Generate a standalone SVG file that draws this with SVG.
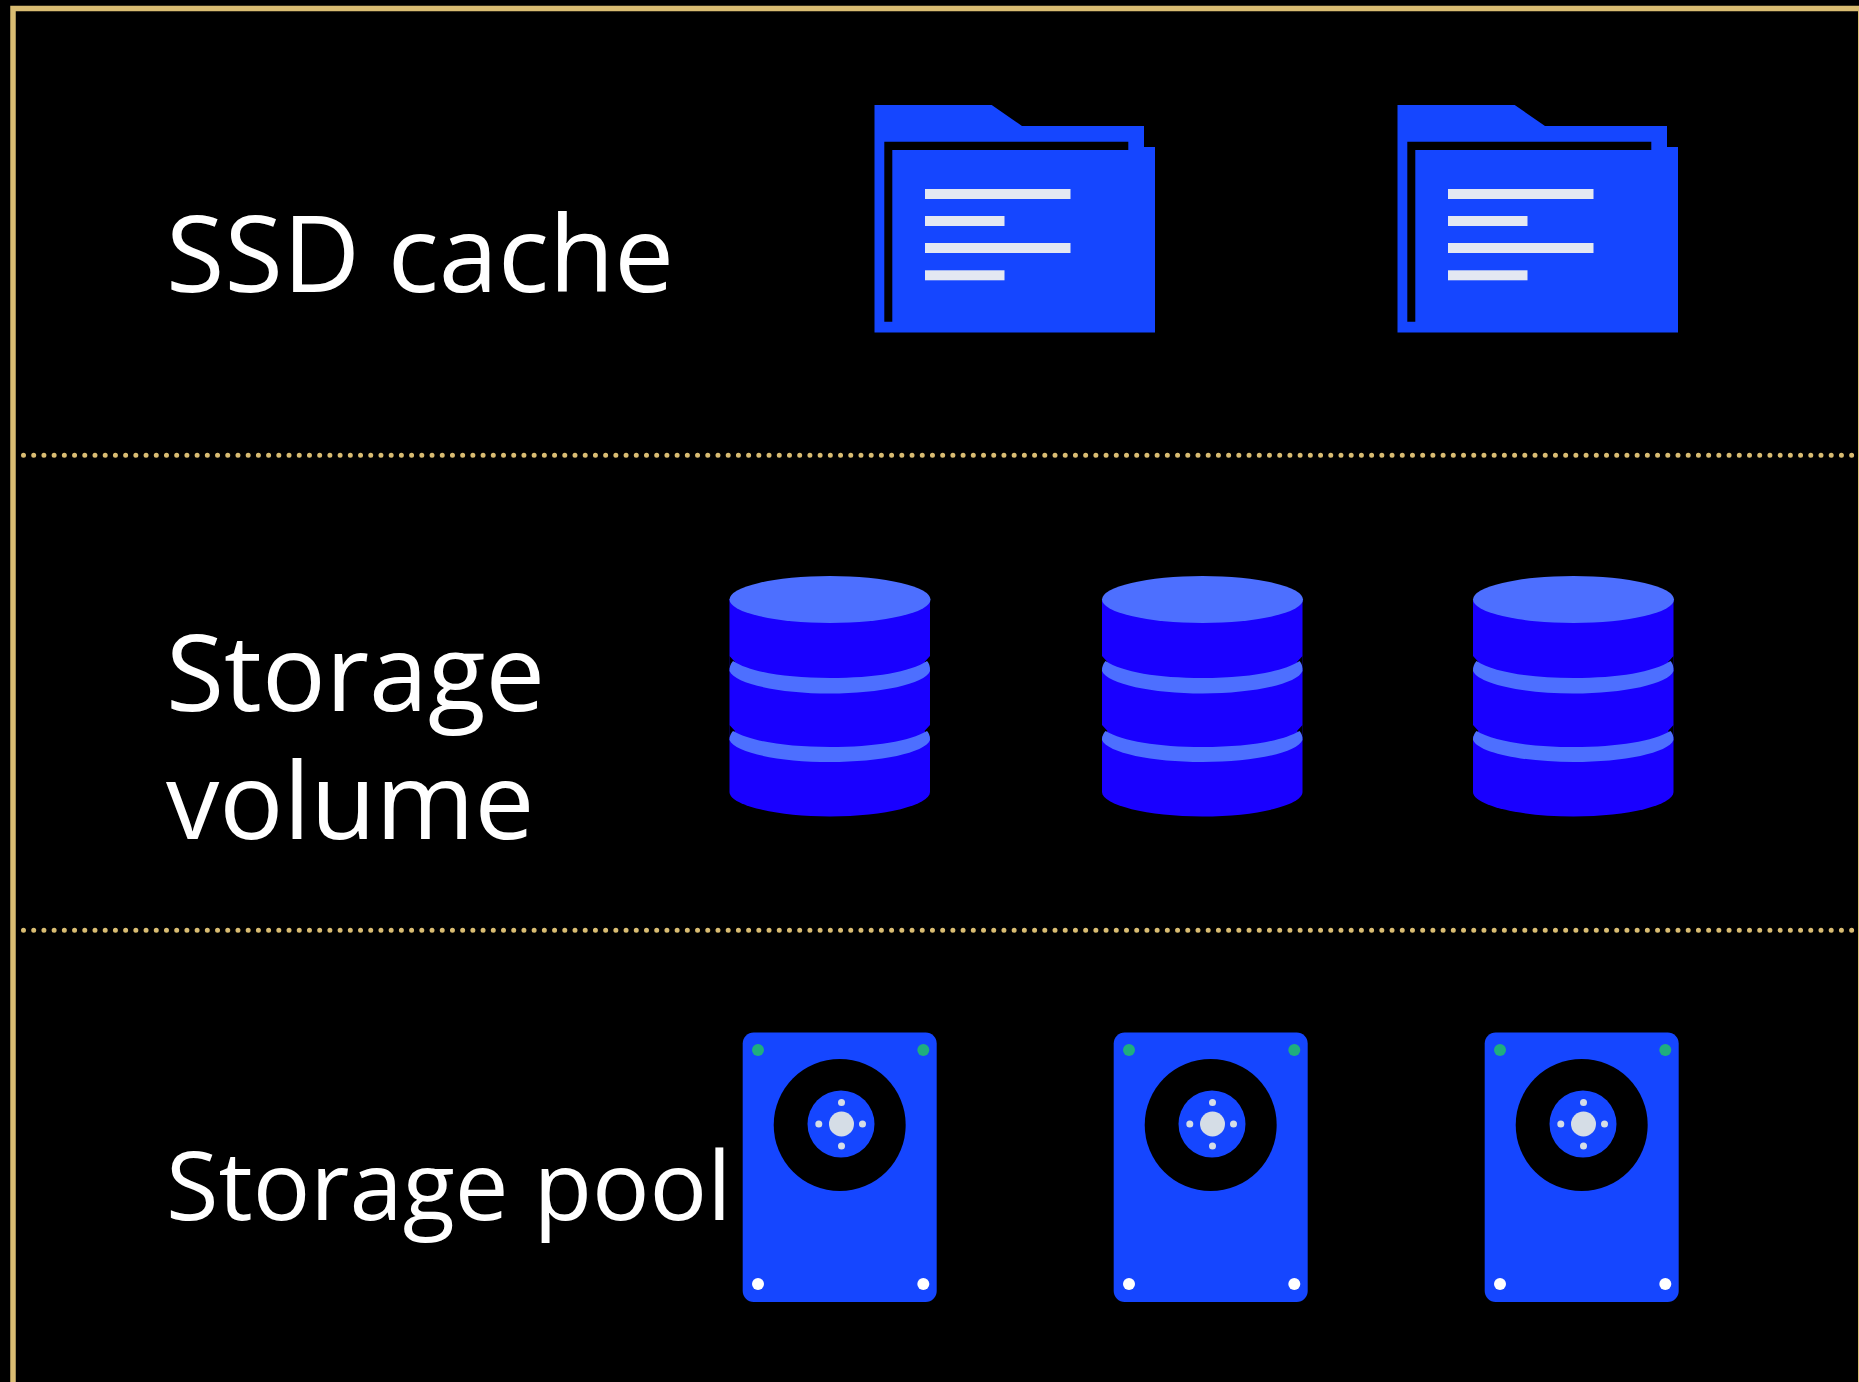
<svg xmlns="http://www.w3.org/2000/svg" width="1859" height="1382" viewBox="0 0 1859 1382">
<style>
.lbl{font-family:"Open Sans","Noto Sans",sans-serif;font-size:106px;fill:#fff}
.ssd{font-size:106.500px}.vol{font-size:106.700px}
.pool{font-size:95.800px}
.blue{fill:#1546ff}.lite{fill:#e3e8f2}.dark{fill:#1900ff}.top{fill:#4d6fff}
.div{stroke:#d9bc72;stroke-width:5;stroke-linecap:round;stroke-dasharray:0 10.213;fill:none}
</style>
<defs>
<g id="folder">
<path class="blue" d="M874.5 105H991.7L1022 126H1144V147H1155V332.500H874.5Z"/>
<path fill="#000" d="M884.3 141.700H1128.300V150H892.300V321.700H884.300Z"/>
<rect class="lite" x="925" y="189" width="145.500" height="10"/>
<rect class="lite" x="925" y="216" width="79.500" height="10"/>
<rect class="lite" x="925" y="243" width="145.500" height="10"/>
<rect class="lite" x="925" y="270.300" width="79.500" height="10"/>
</g>
<g id="cyl">
<path class="dark" d="M729.500 792V599H930V792C930 805 885 816.500 830 816.500S729.500 805 729.500 792Z"/>
<path fill="#000" d="M729.500 656 735 662 729.500 668ZM930 656 924.500 662 930 668ZM729.500 725 735 731 729.500 737ZM930 725 924.500 731 930 737Z"/>
<path class="top" d="M733 661C750 672 785 678 830 678S910 672 927 661C930 664 930 668 930 671C925 684 880 693.500 830 693.500S735 684 729.500 671C729.500 668 730 664 733 661Z"/>
<path class="top" d="M733 731C750 741 785 747 830 747S910 741 927 731C930 734 930 738 930 740C925 753 880 762 830 762S735 753 729.500 740C729.500 738 730 734 733 731Z"/>
<ellipse class="top" cx="830" cy="599.500" rx="100.500" ry="23.500"/>
</g>
<g id="disk">
<rect class="blue" x="742.700" y="1032.500" width="194" height="269.500" rx="11"/>
<circle fill="#000" cx="839.700" cy="1125" r="66"/>
<circle class="blue" cx="841" cy="1124" r="33.500"/>
<circle fill="#d5dde6" cx="841.500" cy="1124" r="12.500"/>
<g fill="#d5dde6">
<circle cx="841.500" cy="1102.500" r="3.500"/><circle cx="841.500" cy="1146" r="3.500"/>
<circle cx="818.800" cy="1124" r="3.500"/><circle cx="862.500" cy="1124" r="3.500"/>
</g>
<circle fill="#1fae7e" cx="758" cy="1050" r="6"/><circle fill="#1fae7e" cx="923.300" cy="1050" r="6"/>
<circle fill="#fff" cx="758" cy="1284" r="6"/><circle fill="#fff" cx="923.300" cy="1284" r="6"/>
</g>
</defs>
<rect width="1859" height="1382" fill="#000"/>
<g id="connectors">
<path id="frame" d="M1859 8.500H13V1382" fill="none" stroke="#d9bc72" stroke-width="5.500"/>
<path d="M1858.500 8V1382" fill="none" stroke="#d9bc72" stroke-width="1"/>
<path class="div" d="M23.500 455.300H1853"/>
<path class="div" d="M23.500 930.300H1853"/>
</g>
<g id="label-ssd"><text class="lbl ssd" x="166" y="292">SSD cache</text></g>
<g id="label-volume"><text class="lbl" x="166" y="711">Storage</text><text class="lbl vol" x="166" y="838.500">volume</text></g>
<g id="label-pool"><text class="lbl pool" x="166" y="1220">Storage pool</text></g>
<g id="folder-1"><use href="#folder"/></g>
<g id="folder-2"><use href="#folder" x="523"/></g>
<g id="volume-1"><use href="#cyl"/></g>
<g id="volume-2"><use href="#cyl" x="372.500"/></g>
<g id="volume-3"><use href="#cyl" x="743.500"/></g>
<g id="disk-1"><use href="#disk"/></g>
<g id="disk-2"><use href="#disk" x="371"/></g>
<g id="disk-3"><use href="#disk" x="742"/></g>
</svg>
